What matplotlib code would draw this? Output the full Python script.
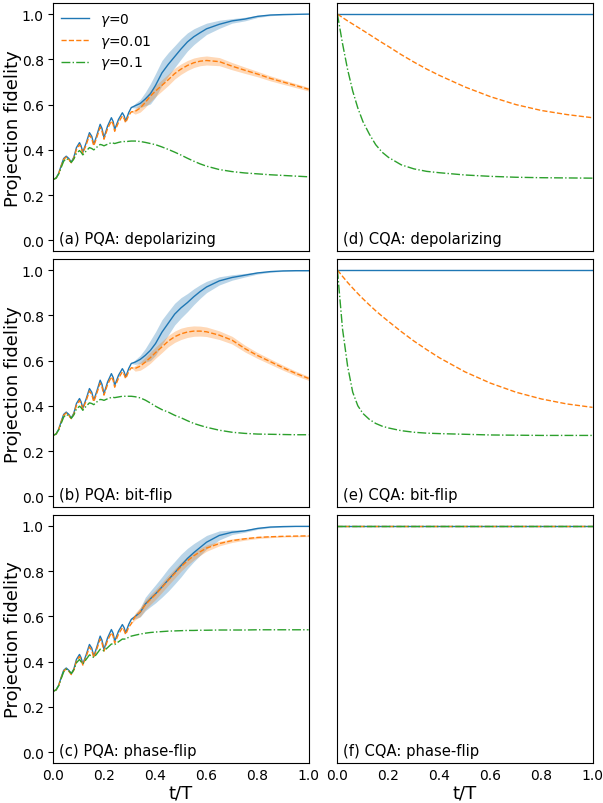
import numpy as np
import matplotlib
matplotlib.use("Agg")
import matplotlib.pyplot as plt

# ---------------- data ----------------
# time grid for PQA (left column)
t_early = [0.000, 0.010, 0.020, 0.030, 0.040, 0.050, 0.060, 0.070, 0.080, 0.090,
           0.102, 0.108, 0.115, 0.128, 0.141, 0.150, 0.158, 0.170, 0.183, 0.190,
           0.198, 0.212, 0.227, 0.234, 0.240, 0.255, 0.270, 0.277, 0.283, 0.295, 0.305]
t_late = [0.32, 0.34, 0.36, 0.38, 0.40, 0.425, 0.45, 0.475, 0.50, 0.525, 0.55,
          0.575, 0.60, 0.65, 0.70, 0.75, 0.80, 0.85, 0.90, 0.95, 1.00]

# shared oscillating start (gamma = 0 and gamma = 0.01)
g0_early = [0.270, 0.275, 0.295, 0.330, 0.362, 0.372, 0.362, 0.346, 0.368, 0.410,
            0.432, 0.418, 0.390, 0.430, 0.476, 0.460, 0.424, 0.465, 0.513, 0.495,
            0.454, 0.505, 0.542, 0.525, 0.490, 0.535, 0.564, 0.550, 0.527, 0.565, 0.587]
g001_early = [0.270, 0.275, 0.294, 0.328, 0.358, 0.368, 0.358, 0.343, 0.364, 0.402,
              0.423, 0.410, 0.385, 0.422, 0.465, 0.450, 0.418, 0.456, 0.500, 0.483,
              0.447, 0.494, 0.528, 0.512, 0.482, 0.522, 0.550, 0.538, 0.520, 0.552, 0.568]
g01_early_a = [0.270, 0.275, 0.293, 0.322, 0.350, 0.362, 0.356, 0.345, 0.360, 0.385,
               0.397, 0.390, 0.378, 0.395, 0.410, 0.406, 0.400, 0.412, 0.424, 0.422,
               0.418, 0.425, 0.432, 0.430, 0.428, 0.433, 0.437, 0.437, 0.436, 0.438, 0.439]
g01_early_b = [0.270, 0.275, 0.293, 0.322, 0.350, 0.362, 0.356, 0.345, 0.360, 0.386,
               0.398, 0.392, 0.380, 0.398, 0.413, 0.410, 0.405, 0.417, 0.428, 0.427,
               0.424, 0.431, 0.437, 0.437, 0.436, 0.439, 0.442, 0.442, 0.442, 0.442, 0.442]
g01_early_c = [0.270, 0.275, 0.293, 0.325, 0.355, 0.367, 0.360, 0.348, 0.365, 0.395,
               0.410, 0.400, 0.390, 0.410, 0.430, 0.425, 0.418, 0.435, 0.455, 0.452,
               0.448, 0.462, 0.478, 0.478, 0.476, 0.488, 0.500, 0.500, 0.500, 0.508, 0.513]

# (a) PQA depolarizing
a_g0 = [0.595, 0.605, 0.625, 0.648, 0.685, 0.740, 0.778, 0.812, 0.846, 0.877, 0.900,
        0.918, 0.935, 0.955, 0.970, 0.978, 0.990, 0.996, 0.998, 0.999, 1.000]
a_g0_band = [0.010, 0.018, 0.030, 0.045, 0.052, 0.055, 0.052, 0.048, 0.045, 0.040, 0.035,
             0.030, 0.025, 0.018, 0.010, 0.008, 0.005, 0.003, 0.002, 0.001, 0.001]
a_g001 = [0.570, 0.585, 0.610, 0.638, 0.660, 0.685, 0.710, 0.737, 0.757, 0.773, 0.785,
          0.792, 0.795, 0.790, 0.770, 0.752, 0.735, 0.716, 0.700, 0.684, 0.668]
a_g001_band = [0.012, 0.018, 0.022, 0.025, 0.025, 0.025, 0.025, 0.024, 0.023, 0.022, 0.021,
               0.020, 0.020, 0.018, 0.016, 0.014, 0.012, 0.011, 0.010, 0.009, 0.008]
a_g01 = [0.439, 0.437, 0.433, 0.428, 0.423, 0.413, 0.402, 0.390, 0.377, 0.363, 0.350,
         0.338, 0.328, 0.313, 0.304, 0.298, 0.294, 0.290, 0.287, 0.284, 0.281]

# (b) PQA bit-flip
b_g0 = [0.593, 0.605, 0.623, 0.645, 0.675, 0.725, 0.765, 0.805, 0.833, 0.856, 0.882,
        0.905, 0.925, 0.952, 0.967, 0.977, 0.987, 0.993, 0.996, 0.997, 0.997]
b_g0_band = [0.010, 0.018, 0.030, 0.045, 0.052, 0.055, 0.052, 0.048, 0.045, 0.040, 0.035,
             0.030, 0.025, 0.018, 0.012, 0.008, 0.005, 0.003, 0.002, 0.001, 0.001]
b_g001 = [0.565, 0.575, 0.593, 0.613, 0.635, 0.660, 0.686, 0.705, 0.718, 0.726, 0.730,
          0.730, 0.727, 0.712, 0.690, 0.653, 0.622, 0.595, 0.568, 0.543, 0.521]
b_g001_band = [0.012, 0.018, 0.022, 0.025, 0.025, 0.025, 0.025, 0.025, 0.025, 0.024, 0.023,
               0.022, 0.021, 0.019, 0.017, 0.015, 0.013, 0.012, 0.011, 0.010, 0.009]
b_g01 = [0.440, 0.435, 0.425, 0.412, 0.398, 0.383, 0.372, 0.358, 0.347, 0.334, 0.322,
         0.313, 0.305, 0.292, 0.283, 0.278, 0.275, 0.274, 0.273, 0.272, 0.272]

# (c) PQA phase-flip
c_g0 = [0.600, 0.618, 0.655, 0.678, 0.700, 0.730, 0.762, 0.793, 0.825, 0.856, 0.882,
        0.905, 0.928, 0.958, 0.972, 0.978, 0.989, 0.995, 0.997, 0.998, 0.998]
c_g0_band = [0.010, 0.020, 0.030, 0.035, 0.040, 0.045, 0.050, 0.050, 0.050, 0.045, 0.040,
             0.035, 0.030, 0.020, 0.010, 0.006, 0.004, 0.003, 0.002, 0.001, 0.001]
c_g001 = [0.600, 0.620, 0.652, 0.675, 0.697, 0.728, 0.760, 0.790, 0.820, 0.846, 0.868,
          0.886, 0.902, 0.922, 0.935, 0.943, 0.949, 0.952, 0.954, 0.955, 0.956]
c_g001_band = [0.015, 0.020, 0.022, 0.022, 0.022, 0.022, 0.022, 0.021, 0.020, 0.019, 0.018,
               0.016, 0.014, 0.010, 0.008, 0.006, 0.005, 0.004, 0.003, 0.003, 0.003]
c_g01 = [0.517, 0.522, 0.526, 0.529, 0.531, 0.533, 0.535, 0.536, 0.537, 0.538, 0.538,
         0.539, 0.539, 0.540, 0.540, 0.540, 0.541, 0.541, 0.541, 0.541, 0.541]

# CQA (right column)
t_cqa = [0.0, 0.02, 0.04, 0.06, 0.08, 0.10, 0.125, 0.15, 0.175, 0.2, 0.25, 0.3, 0.35,
         0.4, 0.5, 0.6, 0.7, 0.8, 0.9, 1.0]
cqa_g0 = [1.0] * len(t_cqa)
d_g001 = [1.0, 0.985, 0.970, 0.956, 0.942, 0.928, 0.910, 0.892, 0.874, 0.857, 0.821,
          0.788, 0.757, 0.729, 0.678, 0.635, 0.600, 0.574, 0.556, 0.542]
d_g01 = [1.0, 0.870, 0.755, 0.660, 0.585, 0.525, 0.470, 0.423, 0.390, 0.367, 0.334,
         0.316, 0.305, 0.299, 0.289, 0.283, 0.279, 0.277, 0.276, 0.275]
e_g001 = [1.0, 0.972, 0.945, 0.920, 0.896, 0.873, 0.846, 0.820, 0.796, 0.773, 0.728,
          0.686, 0.648, 0.612, 0.550, 0.500, 0.460, 0.430, 0.408, 0.393]
e_g01 = [1.0, 0.740, 0.575, 0.460, 0.400, 0.366, 0.340, 0.322, 0.310, 0.302, 0.290,
         0.283, 0.279, 0.277, 0.274, 0.271, 0.270, 0.269, 0.269, 0.269]
f_g001 = [1.0] * len(t_cqa)
f_g01 = [1.0] * len(t_cqa)

labels = [r"$\gamma$=0", r"$\gamma$=0.01", r"$\gamma$=0.1"]
panel_titles = ["(a) PQA: depolarizing", "(d) CQA: depolarizing",
                "(b) PQA: bit-flip", "(e) CQA: bit-flip",
                "(c) PQA: phase-flip", "(f) CQA: phase-flip"]
yticks = [0.0, 0.2, 0.4, 0.6, 0.8, 1.0]
xticks = [0.0, 0.2, 0.4, 0.6, 0.8, 1.0]

# ---------------- plot ----------------
plt.rcParams['font.family'] = ['DejaVu Sans']
fig, axes = plt.subplots(3, 2, figsize=(6.03, 8.04), dpi=100, sharex=True, sharey=True)
fig.subplots_adjust(left=0.0887, right=0.9826, top=0.995, bottom=0.0494,
                    wspace=0.113, hspace=0.03)

t_pqa = np.array(t_early + t_late)
zeros_early = np.zeros(len(t_early))
pqa = [
    (a_g0, a_g0_band, a_g001, a_g001_band, a_g01, g01_early_a),
    (b_g0, b_g0_band, b_g001, b_g001_band, b_g01, g01_early_b),
    (c_g0, c_g0_band, c_g001, c_g001_band, c_g01, g01_early_c),
]
cqa = [(d_g001, d_g01), (e_g001, e_g01), (f_g001, f_g01)]

lw = 1.0
for r in range(3):
    g0, g0b, g1, g1b, g2, g2e = pqa[r]
    ax = axes[r, 0]
    y0 = np.array(g0_early + g0)
    b0 = np.concatenate([zeros_early, g0b])
    y1 = np.array(g001_early + g1)
    b1 = np.concatenate([zeros_early, g1b])
    y2 = np.array(g2e + g2)
    ax.fill_between(t_pqa, y0 - b0, y0 + b0, color='C0', alpha=0.3, lw=0)
    ax.fill_between(t_pqa, y1 - b1, y1 + b1, color='C1', alpha=0.3, lw=0)
    ax.plot(t_pqa, y0, color='C0', ls='-', lw=lw, label=labels[0])
    ax.plot(t_pqa, y1, color='C1', ls='--', lw=lw, label=labels[1])
    ax.plot(t_pqa, y2, color='C2', ls='-.', lw=lw, label=labels[2])
    ax.text(0.022, 0.052, panel_titles[2 * r], transform=ax.transAxes,
            fontsize=10.6, va='center', ha='left')
    ax.set_ylabel("Projection fidelity", fontsize=13, labelpad=0)

    ax = axes[r, 1]
    c1, c2 = cqa[r]
    ax.plot(t_cqa, cqa_g0, color='C0', ls='-', lw=lw)
    ax.plot(t_cqa, c1, color='C1', ls='--', lw=lw)
    ax.plot(t_cqa, c2, color='C2', ls='-.', lw=lw)
    ax.text(0.022, 0.052, panel_titles[2 * r + 1], transform=ax.transAxes,
            fontsize=10.6, va='center', ha='left')

for ax in axes.flat:
    ax.set_xlim(0, 1)
    ax.set_ylim(-0.049, 1.049)
    ax.set_xticks(xticks)
    ax.set_yticks(yticks)
    ax.tick_params(axis='x', length=0, labelsize=10)
    ax.tick_params(axis='y', labelsize=10)
for ax in axes[:, 1]:
    ax.tick_params(axis='y', length=0)
for ax in axes[2, :]:
    ax.set_xlabel("t/T", fontsize=13, labelpad=1)

axes[0, 0].legend(loc='upper left', frameon=False, fontsize=10,
                  borderaxespad=0.15, handlelength=2.0, labelspacing=0.35)

fig.savefig("out.png", dpi=100)
